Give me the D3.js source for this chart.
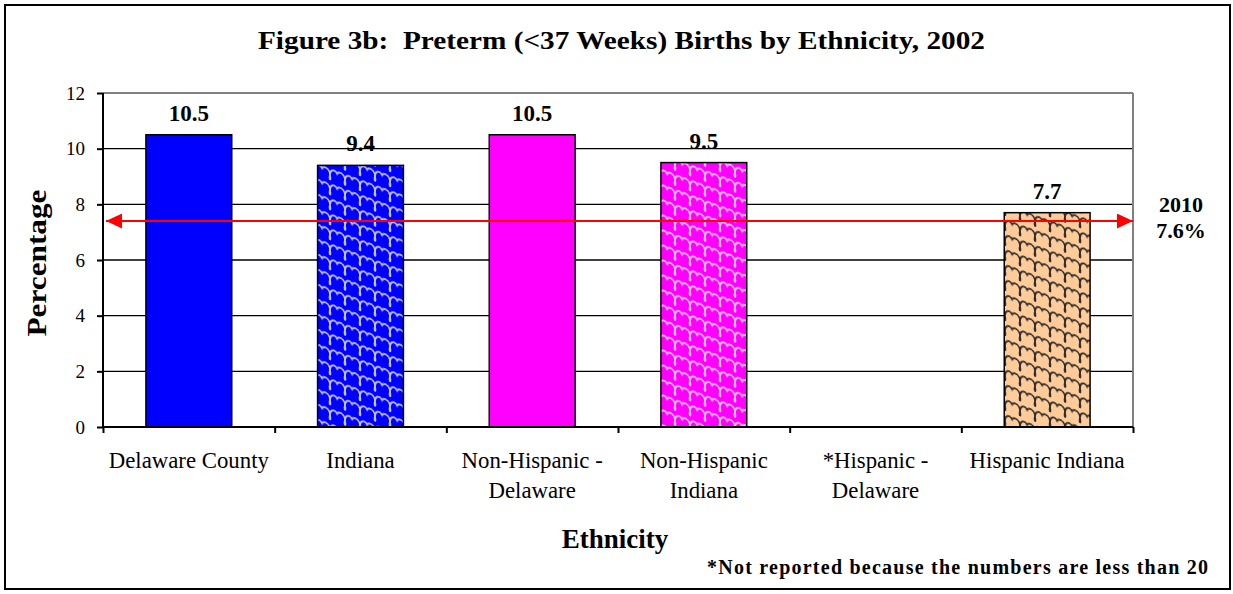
<!DOCTYPE html>
<html><head><meta charset="utf-8">
<script src="https://cdn.jsdelivr.net/npm/d3@7"></script>
<style>body{margin:0;background:#fff}svg{display:block}text{font-family:"Liberation Serif","Times New Roman",serif}</style>
</head><body><svg id="c" width="1233" height="594"></svg>
<script>
const categories = [["Delaware County"],["Indiana"],["Non-Hispanic -","Delaware"],["Non-Hispanic","Indiana"],["*Hispanic -","Delaware"],["Hispanic Indiana"]];
const values = [10.5, 9.4, 10.5, 9.5, null, 7.7];
const fills = ["solid-blue","wave-blue","solid-magenta","wave-magenta",null,"wave-peach"];
const yTicks = [0,2,4,6,8,10,12];
const targetLine = 7.4;
const targetLabel = ["2010","7.6%"];

const svg = d3.select("#c");
const defs = svg.append("defs");
function wave(id, bg, fg){
  const p = defs.append("pattern").attr("id",id).attr("patternUnits","userSpaceOnUse")
    .attr("width",15).attr("height",15).attr("patternTransform","skewY(20)");
  p.append("rect").attr("x",-2).attr("y",-2).attr("width",20).attr("height",20).attr("fill",bg);
  const d = "M0,15 C1,12 0,11 0,10 C0,4 5,2 7,6 C9,2 15,4 15,10 C15,11 14,12 15,15 M0,0 C0,-1 0,-2 0,-5 M15,0 C15,-1 15,-2 15,-5";
  p.append("path").attr("d",d).attr("fill","none").attr("stroke",fg).attr("stroke-width",1.7);
}
wave("wave-blue","#0000ff","#c8c8ff");
wave("wave-magenta","#ff00ff","#ffc8ff");
wave("wave-peach","#ffcc99","#2a2a2a");
const fillMap = {"solid-blue":"#0000ff","solid-magenta":"#ff00ff","wave-blue":"url(#wave-blue)","wave-magenta":"url(#wave-magenta)","wave-peach":"url(#wave-peach)"};

// arrow markers
defs.append("marker").attr("id","arrEnd").attr("viewBox","0 0 10 10").attr("refX",10).attr("refY",5)
  .attr("markerWidth",8).attr("markerHeight",7.5).attr("markerUnits","strokeWidth").attr("orient","auto")
  .attr("preserveAspectRatio","none")
  .append("path").attr("d","M0,0 L10,5 L0,10 Z").attr("fill","#ff0000");
defs.append("marker").attr("id","arrStart").attr("viewBox","0 0 10 10").attr("refX",0).attr("refY",5)
  .attr("markerWidth",8).attr("markerHeight",7.5).attr("markerUnits","strokeWidth").attr("orient","auto")
  .attr("preserveAspectRatio","none")
  .append("path").attr("d","M10,0 L0,5 L10,10 Z").attr("fill","#ff0000");

// outer frame
svg.append("rect").attr("x",5).attr("y",5).attr("width",1225).attr("height",584)
  .attr("fill","none").attr("stroke","#000").attr("stroke-width",2);

const L=103, R=1133, T=93, B=427;
const x = d3.scaleBand().domain(d3.range(categories.length)).range([L,R]).paddingInner(0.5).paddingOuter(0.25);
const xb = d3.scaleLinear().domain([0,categories.length]).range([L,R]);
const y = d3.scaleLinear().domain([0,12]).range([B,T]);

// gridlines
svg.append("g").selectAll("line").data(yTicks.filter(v=>v>0)).join("line")
  .attr("x1",L).attr("x2",R).attr("y1",d=>y(d)).attr("y2",d=>y(d))
  .attr("stroke",d=>d===12?"#808080":"#000").attr("stroke-width",d=>d===12?2:1.3);
svg.append("line").attr("x1",R).attr("x2",R).attr("y1",T).attr("y2",B).attr("stroke","#808080").attr("stroke-width",2);

// bars
svg.append("g").selectAll("rect").data(values.map((v,i)=>({v,i})).filter(d=>d.v!=null)).join("rect")
  .attr("x",d=>x(d.i)).attr("width",x.bandwidth()).attr("y",d=>y(d.v)).attr("height",d=>y(0)-y(d.v))
  .attr("fill",d=>fillMap[fills[d.i]]).attr("stroke","#000").attr("stroke-width",1.5);

// value labels
svg.append("g").selectAll("text").data(values.map((v,i)=>({v,i})).filter(d=>d.v!=null)).join("text")
  .attr("x",d=>x(d.i)+x.bandwidth()/2).attr("y",d=>y(d.v)-14).attr("text-anchor","middle")
  .attr("font-size",23).attr("font-weight","bold").text(d=>d.v.toFixed(1));

// axes
const yAxis = d3.axisLeft(y).tickValues(yTicks).tickSize(6).tickPadding(12).tickFormat(d3.format("d"));
const gy = svg.append("g").attr("transform",`translate(${L},0)`).call(yAxis);
gy.select(".domain").attr("stroke","#000").attr("stroke-width",2).attr("d",`M0,${T}V${B}`);
gy.selectAll(".tick line").attr("stroke","#000").attr("stroke-width",2);
gy.selectAll(".tick text").attr("font-size",19).attr("fill","#000");

const xAxis = d3.axisBottom(xb).tickValues(d3.range(categories.length+1)).tickSize(6).tickFormat("");
const gx = svg.append("g").attr("transform",`translate(0,${B})`).call(xAxis);
gx.select(".domain").attr("stroke","#000").attr("stroke-width",2).attr("d",`M${L},0H${R}`);
gx.selectAll(".tick line").attr("stroke","#000").attr("stroke-width",2);

// category labels
const cl = svg.append("g").selectAll("text").data(categories).join("text")
  .attr("x",(d,i)=>x(i)+x.bandwidth()/2).attr("y",468).attr("text-anchor","middle")
  .attr("font-size",22.8).attr("fill","#000");
cl.selectAll("tspan").data(d=>d).join("tspan")
  .attr("x",function(){return this.parentNode.getAttribute("x");})
  .attr("dy",(d,i)=>i===0?0:30).text(d=>d);

// target arrow
svg.append("line").attr("x1",L+3).attr("x2",R).attr("y1",y(targetLine)).attr("y2",y(targetLine))
  .attr("stroke","#ff0000").attr("stroke-width",2)
  .attr("marker-start","url(#arrStart)").attr("marker-end","url(#arrEnd)");
svg.append("text").attr("x",1181).attr("y",212).attr("text-anchor","middle")
  .attr("font-size",22).attr("font-weight","bold").selectAll("tspan").data(targetLabel).join("tspan")
  .attr("x",1181).attr("dy",(d,i)=>i===0?0:26).text(d=>d);

// titles
svg.append("text").attr("x",258).attr("y",49)
  .attr("font-size",25).attr("font-weight","bold")
  .attr("textLength",727).attr("lengthAdjust","spacingAndGlyphs")
  .attr("style","white-space:pre").text("Figure 3b:  Preterm (<37 Weeks) Births by Ethnicity, 2002");
svg.append("text").attr("transform","translate(46,263) rotate(-90)").attr("text-anchor","middle")
  .attr("font-size",27).attr("font-weight","bold")
  .attr("textLength",147).attr("lengthAdjust","spacingAndGlyphs").text("Percentage");
svg.append("text").attr("x",615).attr("y",548).attr("text-anchor","middle")
  .attr("font-size",27).attr("font-weight","bold").text("Ethnicity");
svg.append("text").attr("x",707).attr("y",574)
  .attr("font-size",20).attr("font-weight","bold")
  .attr("textLength",501).attr("lengthAdjust","spacing").text("*Not reported because the numbers are less than 20");
</script></body></html>
